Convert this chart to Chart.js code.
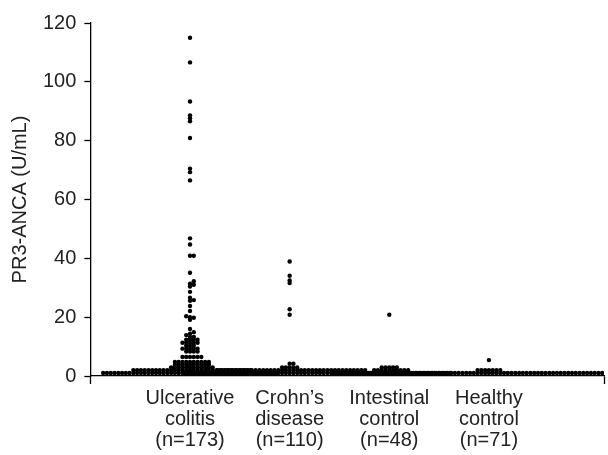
<!DOCTYPE html>
<html><head><meta charset="utf-8">
<script src="https://cdn.jsdelivr.net/npm/chart.js@4.4.1/dist/chart.umd.min.js"></script>
<style>html,body{margin:0;padding:0;background:#fff;} #c{display:block;}</style>
</head><body>
<canvas id="c" width="608" height="455"></canvas>
<script>
// ---- data ----
const categories = [
  ["Ulcerative", "colitis", "(n=173)"],
  ["Crohn\u2019s", "disease", "(n=110)"],
  ["Intestinal", "control", "(n=48)"],
  ["Healthy", "control", "(n=71)"]
];
const yTicks = [0, 20, 40, 60, 80, 100, 120];

// individually readable values (U/mL)
const ucSingles = [115, 106.6, 93.3, 88.6, 87.6, 86.6, 80.9, 70.5, 69.3, 66.5, 46.8, 44.7, 40.9, 40.9,
  35.1, 32.2, 31.4, 31.0, 30.4, 28.6, 26.6, 25.8, 25.6, 23.8, 22.1, 20.3, 20.0, 19.8, 19.1, 16.0, 14.9, 14.4, 13.9];
const cdSingles = [38.9, 34.1, 32.5, 31.6, 22.7, 20.8];
const icSingles = [20.8];
const hcSingles = [5.4];

// tied low values: level (U/mL) and how many dots sit on it
const ucLevels = [13.3, 12.3, 11.3, 10.3, 9.3, 8.3, 6.5, 4.8, 3.8, 2.9, 2.0, 1.0];
const ucCounts = [2, 4, 5, 3, 5, 4, 6, 10, 10, 12, 32, 47];
const cdLevels = [4.2, 2.9, 2.0, 1.0];
const cdCounts = [2, 5, 40, 57];
const icLevels = [2.9, 2.0, 1.0];
const icCounts = [5, 10, 32];
const hcLevels = [2.0, 1.0];
const hcCounts = [7, 63];

// ---- build dot lists ----
function expand(singles, levels, counts) {
  const out = singles.slice();
  levels.forEach((lv, i) => { for (let k = 0; k < counts[i]; k++) out.push(lv); });
  return out;
}
const STEP_X = 0.0379;   // horizontal dot spacing in category units
const ROW_TOL = 0.85;    // values closer than this collide
function swarm(values, center) {
  const placed = [];
  values.slice().sort((a, b) => a - b).forEach(v => {
    for (let i = 0; ; i++) {
      const off = i === 0 ? 0 : (i % 2 ? 1 : -1) * Math.ceil(i / 2);
      const x = center + off * STEP_X;
      const clash = placed.some(p => Math.abs(p.y - v) < ROW_TOL && Math.abs(p.x - x) < STEP_X * 0.99);
      if (!clash) { placed.push({ x: x, y: v }); break; }
    }
  });
  return placed;
}
const groups = [
  expand(ucSingles, ucLevels, ucCounts),
  expand(cdSingles, cdLevels, cdCounts),
  expand(icSingles, icLevels, icCounts),
  expand(hcSingles, hcLevels, hcCounts)
];
const X_MAX = 5.155;

Chart.defaults.font.family = '"Liberation Sans", Arial, sans-serif';
Chart.defaults.font.size = 20;
Chart.defaults.color = '#222';

new Chart(document.getElementById('c'), {
  type: 'scatter',
  data: {
    datasets: groups.map((g, i) => ({
      label: categories[i].join(' '),
      data: swarm(g, i + 1),
      backgroundColor: '#000',
      borderWidth: 0,
      pointRadius: 2.2,
      pointHoverRadius: 2.2
    }))
  },
  options: {
    responsive: false,
    animation: false,
    layout: { padding: { left: 4, top: 23, right: 1, bottom: 0 } },
    plugins: { legend: { display: false }, tooltip: { enabled: false } },
    scales: {
      x: {
        type: 'linear', min: 0, max: X_MAX,
        afterBuildTicks: s => { s.ticks = [0, 1, 2, 3, 4, X_MAX].map(v => ({ value: v })); },
        ticks: {
          autoSkip: false, maxRotation: 0, padding: 4,
          font: { size: 20, lineHeight: 1.05 },
          callback: (v, i) => (i >= 1 && i <= categories.length) ? categories[i - 1] : ''
        },
        grid: {
          drawOnChartArea: false, tickLength: 8, tickWidth: 1.3,
          tickColor: ctx => (ctx.index === 0 || ctx.index === 5) ? '#000' : 'rgba(0,0,0,0)'
        },
        border: { color: '#000', width: 1.3 }
      },
      y: {
        min: 0, max: 120,
        afterBuildTicks: s => { s.ticks = yTicks.map(v => ({ value: v })); },
        ticks: { padding: 8, font: { size: 20 } },
        grid: { drawOnChartArea: false, tickLength: 6, tickWidth: 1.3, tickColor: '#000' },
        border: { color: '#000', width: 1.3 },
        title: { display: true, text: 'PR3-ANCA (U/mL)', font: { size: 20 }, padding: { top: 4, bottom: 3 } }
      }
    }
  }
});
</script>
</body></html>
